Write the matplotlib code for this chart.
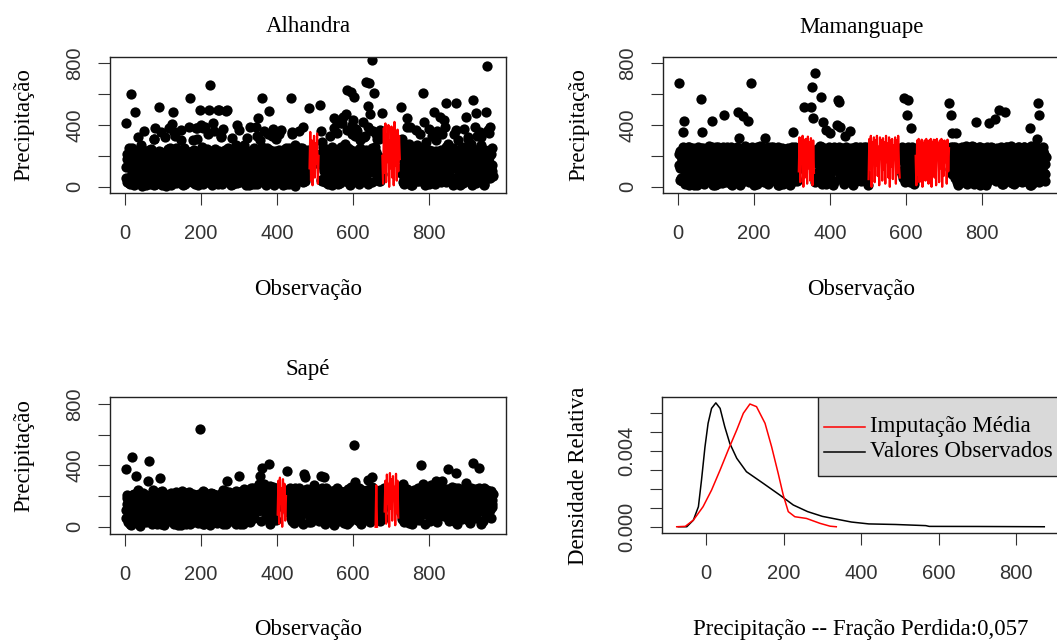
import matplotlib
matplotlib.use("Agg")
import matplotlib.pyplot as plt
from matplotlib.patches import Rectangle
import numpy as np

W = 1057
H = 641
N = None

# observation numbers of the three interleaved point lists
obs_a = list(range(1, 968, 3))
obs_b = list(range(2, 969, 3))
obs_c = list(range(3, 970, 3))

alhandra_a = [
    415, 180, 60, 250, 20, 598, 130, 95, 482, 90, 210, 40, 160, 150, 270, 10, 190, 120, 70, 230,
    120, 45, 30, 200, 160, 310, 380, 50, 140, 514, 100, 225, 15, 170, 85, 80, 220, 140, 35, 250,
    190, 405, 482, 355, 60, 180, 130, 220, 25, 300, 160, 90, 240, 45, 200, 110, 65, 572, 150, 70,
    180, 20, 380, 380, 140, 497, 50, 260, 380, 210, 388, 90, 170, 497, 662, 30, 230, 410, 160, 105,
    70, 497, 497, 200, 330, 120, 55, 40, 492, 497, 180, 225, 90, 240, 20, 130, 150, 270, 400, 60,
    210, 100, 120, 40, 270, 190, 15, 80, 230, 150, 20, 175, 110, 250, 60, 389, 443, 170, 300, 40,
    572, 220, 130, 75, 70, 340, 492, 180, 30, 200, 150, 90, 310, 200, 50, 240, 120, 165, 10, 190,
    135, 70, 230, 160, 40, 572, 355, 210, 100, 270, 30, 180, 95, 140, 60, 250, 200, 90, 115, 150,
    240, 508, N, N, N, N, N, N, N, N, N, 529, 180, 290, 60, 230, 140, 85, 20, 210,
    100, 260, 150, 445, 40, 432, 200, 125, 80, 250, 410, 453, 130, 280, 470, 626, 60, 220, 615, 170,
    432, 583, 90, 340, 240, 30, 300, 160, 220, 70, 330, 679, 120, 524, 669, 470, 200, 819, 604, 260,
    80, 310, 150, 350, 40, 475, N, N, N, N, N, N, N, N, N, N, N, N, N, N,
    N, N, 518, 180, 115, 60, 250, 445, 120, 280, 389, 30, 210, 145, 150, 80, 270, 190, 40, 105,
    220, 604, 419, 100, 290, 160, 50, 240, 135, 120, 200, 484, 70, 300, 180, 95, 453, 30, 230, 150,
    432, 90, 540, 280, 200, 60, 125, 140, 250, 20, 540, 190, 300, 100, 230, 75, 70, 260, 160, 453,
    40, 310, 200, 120, 280, 561, 90, 240, 475, 330, 150, 60, 270, 190, 105, 20, 220, 484, 780, 346,
    389, 130, 250,
]
alhandra_b = [
    60, 210, 140, 25, 190, 95, 240, 15, 170, 120, 55, 230, 180, 80, 5, 150, 360, 110, 35, 200,
    165, 20, 245, 90, 130, 10, 215, 70, 185, 145, 40, 355, 100, 160, 30, 205, 120, 60, 380, 175,
    15, 225, 85, 150, 250, 35, 195, 110, 365, 65, 140, 215, 20, 175, 100, 390, 45, 160, 230, 125,
    240, 80, 155, 10, 215, 125, 400, 55, 170, 100, 30, 245, 135, 200, 70, 160, 15, 360, 110, 190,
    140, 20, 235, 95, 165, 375, 40, 205, 120, 60, 250, 150, 10, 190, 85, 230, 40, 120, 175, 365,
    30, 185, 95, 245, 140, 50, 220, 165, 15, 385, 105, 60, 200, 135, 240, 20, 175, 90, 225, 150,
    70, 360, 130, 15, 205, 160, 45, 240, 100, 375, 60, 185, 25, 220, 140, 90, 365, 35, 170, 230,
    110, 20, 195, 250, 75, 155, 30, 230, 140, 5, 210, 120, 360, 55, 180, 100, 390, 40, 165, 220,
    80, 190, N, N, N, N, N, N, N, N, 150, 360, 40, 205, 115, 30, 240, 175, 70, 220,
    135, 15, 200, 380, 60, 170, 230, 105, 25, 410, 155, 90, 215, 40, 365, 120, 185, 10, 240, 400,
    150, 60, 375, 110, 195, 20, 250, 130, 420, 45, 210, 165, 85, 390, 140, 230, 30, 360, 180, 95,
    225, 130, 40, 365, 160, 85, N, N, N, N, N, N, N, N, N, N, N, N, N, N,
    N, 210, 90, 250, 20, 175, 130, 385, 55, 200, 145, 10, 235, 105, 170, 365, 40, 190, 125, 220,
    60, 245, 150, 15, 205, 110, 375, 35, 180, 230, 90, 155, 20, 360, 125, 195, 50, 240, 100, 170,
    385, 30, 215, 140, 75, 250, 165, 10, 200, 120, 365, 45, 185, 95, 230, 150, 25, 375, 110, 205,
    140, 60, 240, 175, 15, 220, 100, 390, 150, 35, 210, 355, 80, 165, 230, 45, 190, 125, 370, 160,
    55, 215, 105,
]
alhandra_c = [
    130, 30, 220, 175, 65, 250, 110, 185, 20, 145, 325, 90, 205, 40, 160, 235, 120, 15, 195, 80,
    240, 105, 175, 45, 310, 135, 20, 190, 95, 230, 155, 60, 215, 120, 320, 5, 180, 245, 75, 140,
    205, 60, 125, 330, 25, 165, 235, 85, 145, 200, 10, 250, 115, 180, 40, 220, 150, 95, 30, 300,
    85, 190, 310, 130, 45, 225, 160, 20, 240, 140, 195, 65, 340, 110, 175, 25, 210, 120, 245, 50,
    195, 130, 60, 320, 20, 180, 145, 240, 95, 165, 30, 210, 115, 315, 160, 75, 200, 25, 230, 140,
    175, 245, 55, 160, 215, 95, 315, 130, 195, 60, 235, 145, 20, 180, 110, 330, 40, 220, 130, 255,
    190, 40, 225, 160, 250, 85, 195, 120, 330, 150, 15, 235, 105, 170, 340, 60, 200, 130, 240, 80,
    250, 165, 100, 20, 215, 135, 340, 90, 185, 230, 60, 145, 200, 250, 110, 30, 170, 235, 75, 195,
    160, N, N, N, N, N, N, N, N, N, 210, 45, 185, 255, 100, 160, 220, 60, 130, 330,
    240, 125, 65, 215, 165, 350, 20, 190, 140, 255, 85, 230, 170, 35, 200, 250, 110, 160, 340, 50,
    215, 330, 140, 360, 180, 85, 240, 200, 125, 325, 175, 240, 20, 195, 370, 150, 250, 120, 220, 340,
    45, 200, 310, 135, 170, N, N, N, N, N, N, N, N, N, N, N, N, N, N, N,
    N, 120, 310, 30, 195, 145, 225, 80, 170, 250, 15, 190, 115, 240, 165, 50, 215, 135, 340, 95,
    185, 130, 255, 70, 225, 155, 20, 200, 115, 330, 60, 185, 235, 140, 40, 210, 165, 345, 75, 225,
    120, 255, 65, 195, 160, 30, 240, 125, 340, 180, 55, 215, 140, 10, 250, 185, 100, 225, 200, 60,
    325, 185, 110, 40, 250, 150, 205, 25, 230, 120, 180, 90, 320, 135, 10, 240, 170, 215, 55, 195,
    240, 140, 70,
]

mamanguape_a = [
    675, 120, 200, 40, 353, 428, 240, 90, 160, 10, 250, 70, 180, 130, 30, 220, 100, 260, 60, 150,
    568, 353, 20, 190, 110, 240, 80, 170, 50, 428, 210, 140, 15, 255, 95, 180, 40, 230, 120, 65,
    465, 200, 30, 150, 245, 85, 170, 10, 220, 125, 60, 260, 486, 316, 140, 25, 195, 457, 100, 230,
    50, 428, 175, 240, 675, 90, 15, 210, 130, 255, 70, 160, 35, 225, 110, 190, 314, 60, 145, 20,
    235, 100, 180, 45, 250, 125, 70, 200, 15, 160, 240, 90, 30, 215, 140, 55, 250, 175, 10, 120,
    230, 353, 80, 195, 40, 150, N, N, N, N, 518, N, N, N, N, N, 518, 647, 443, N,
    738, 210, 60, 250, 140, 583, 20, 421, 180, 95, 370, 230, 45, 350, 160, 240, 15, 200, 110, 400,
    561, 552, 388, 70, 250, 130, 330, 30, 215, 165, 90, 360, 240, 10, 185, 120, 255, 60, 200, 145,
    35, 230, 100, 260, 175, 50, 210, N, N, N, N, N, N, N, N, N, N, N, N, N,
    N, N, N, N, N, N, N, N, N, N, N, N, N, N, N, 240, 80, 180, 574, 130,
    40, 465, 559, 210, 378, 150, 250, 20, N, N, N, N, N, N, N, N, N, N, N, N,
    N, N, N, N, N, N, N, N, N, N, N, N, N, N, N, N, N, N, 542, 465,
    350, 120, 200, 60, 350, 240, 15, 180, 95, 255, 140, 30, 220, 110, 170, 50, 245, 80, 190, 130,
    20, 421, 235, 150, 70, 260, 115, 40, 200, 165, 10, 230, 90, 410, 180, 55, 250, 125, 440, 35,
    210, 145, 497, 80, 240, 20, 175, 487, 110, 255, 60, 195, 135, 25, 225, 100, 170, 45, 250, 150,
    85, 215, 30, 190, 260, 120, 65, 235, 160, 378, 15, 200, 105, 245, 140, 310, 542, 465, 50, 180,
    230, 90, 150,
]
mamanguape_b = [
    140, 230, 60, 180, 255, 20, 150, 205, 95, 260, 120, 40, 190, 245, 75, 165, 10, 215, 130, 250,
    85, 200, 160, 30, 240, 110, 265, 55, 175, 135, 15, 225, 100, 190, 255, 65, 150, 205, 25, 170,
    235, 120, 260, 70, 185, 140, 20, 245, 160, 95, 210, 35, 175, 250, 120, 225, 60, 140, 265, 190,
    110, 250, 30, 195, 150, 225, 80, 170, 240, 20, 185, 265, 125, 60, 200, 145, 230, 95, 255, 175,
    40, 215, 150, 260, 90, 180, 230, 15, 195, 120, 65, 250, 175, 205, 100, 240, 30, 160, 220, 255,
    125, 190, 260, 55, 225, 170, N, N, N, N, N, N, N, N, N, N, N, N, N, 210,
    30, 175, 240, 105, 195, 60, 255, 150, 225, 20, 180, 130, 260, 85, 205, 145, 235, 40, 170, 250,
    120, 215, 65, 190, 240, 20, 160, 255, 105, 200, 140, 30, 230, 175, 85, 260, 125, 195, 45, 220,
    165, 250, 90, 205, 135, 240, 15, N, N, N, N, N, N, N, N, N, N, N, N, N,
    N, N, N, N, N, N, N, N, N, N, N, N, N, N, N, 185, 255, 60, 220, 140,
    245, 95, 205, 30, 175, 260, 120, 190, N, N, N, N, N, N, N, N, N, N, N, N,
    N, N, N, N, N, N, N, N, N, N, N, N, N, N, N, N, N, N, 170, 230,
    85, 255, 140, 205, 30, 180, 245, 110, 225, 60, 195, 150, 265, 20, 170, 235, 100, 210, 135, 255,
    180, 55, 240, 120, 200, 15, 165, 250, 95, 215, 140, 260, 35, 190, 230, 80, 175, 245, 125, 205,
    60, 235, 155, 260, 20, 185, 225, 115, 250, 40, 200, 145, 265, 90, 175, 240, 30, 210, 130, 255,
    165, 250, 75, 220, 135, 40, 245, 185, 105, 265, 150, 25, 230, 170, 90, 250, 125, 200, 55, 240,
    145, 210, 80,
]
mamanguape_c = [
    210, 45, 165, 120, 235, 85, 190, 35, 260, 140, 200, 75, 250, 15, 170, 230, 110, 55, 240, 95,
    180, 250, 65, 215, 125, 190, 40, 235, 100, 260, 150, 80, 245, 20, 175, 130, 220, 85, 255, 115,
    45, 195, 150, 240, 105, 255, 70, 180, 30, 225, 130, 250, 90, 15, 210, 160, 245, 110, 185, 60,
    230, 140, 195, 75, 255, 100, 215, 165, 45, 240, 120, 200, 80, 260, 30, 175, 120, 250, 60, 210,
    155, 260, 95, 185, 35, 240, 130, 255, 70, 210, 165, 20, 230, 110, 245, 60, 195, 140, 85, 235,
    200, 40, 175, 250, 115, N, N, N, N, N, N, N, N, N, N, N, N, N, N, 235,
    155, 245, 90, 200, 265, 120, 185, 55, 240, 165, 210, 80, 30, 230, 125, 195, 260, 110, 225, 140,
    255, 70, 180, 130, 215, 165, 245, 95, 60, 230, 185, 250, 110, 205, 150, 35, 240, 175, 100, 260,
    50, 180, 225, 135, 255, 75, 200, N, N, N, N, N, N, N, N, N, N, N, N, N,
    N, N, N, N, N, N, N, N, N, N, N, N, N, N, 215, 100, 250, 165, 30, 235,
    120, 260, 175, 90, 225, 145, 50, 240, N, N, N, N, N, N, N, N, N, N, N, N,
    N, N, N, N, N, N, N, N, N, N, N, N, N, N, N, N, N, N, 115, 255,
    200, 125, 260, 70, 230, 160, 95, 250, 185, 40, 215, 120, 175, 255, 90, 195, 145, 265, 30, 180,
    240, 105, 200, 260, 150, 225, 80, 190, 245, 30, 175, 120, 210, 140, 255, 100, 220, 60, 165, 250,
    135, 190, 45, 215, 250, 95, 170, 260, 130, 205, 180, 70, 240, 155, 20, 225, 190, 110, 260, 85,
    215, 120, 195, 255, 60, 180, 140, 230, 15, 205, 260, 100, 170, 55, 215, 145, 30, 235, 185, 120,
    260, 35, 195,
]

sape_a = [
    374, 150, 30, 200, 90, 10, 452, 120, 180, 330, 60, 210, 140, 20, 170, 100, 45, 190, 75, 130,
    300, 428, 160, 15, 240, 110, 55, 200, 135, 25, 320, 180, 85, 150, 10, 210, 120, 60, 175, 40,
    195, 95, 140, 20, 215, 70, 160, 110, 35, 185, 125, 50, 200, 15, 145, 90, 225, 60, 170, 30,
    210, 105, 155, 40, 190, 635, 80, 130, 20, 205, 115, 55, 180, 145, 10, 160, 95, 215, 65, 135,
    25, 190, 110, 170, 45, 220, 80, 140, 15, 298, 125, 60, 200, 155, 35, 180, 100, 230, 70, 150,
    330, 20, 175, 115, 210, 50, 145, 90, 235, 30, 165, 120, 220, 60, 185, 250, 100, 280, 330, 40,
    385, 150, 210, 75, 260, 125, 412, 20, 195, 90, 240, 160, 45, 215, N, N, N, N, N, N,
    N, N, 363, 110, 230, 60, 185, 140, 25, 250, 95, 170, 205, 50, 130, 225, 15, 346, 323, 155,
    85, 240, 120, 30, 195, 160, 270, 70, 215, 105, 40, 180, 332, 135, 323, 20, 250, 90, 165, 210,
    55, 145, 230, 10, 185, 115, 240, 65, 160, 200, 35, 225, 95, 140, 175, 15, 210, 120, 260, 80,
    190, 532, 290, 45, 225, 130, 170, 20, 240, 100, 155, 60, 205, 302, 140, 30, 185, 325, 110, 215,
    N, 75, 235, 160, 40, 195, 120, 250, N, N, N, N, N, N, N, N, N, N, N, N,
    N, 200, 90, 170, 280, 30, 215, 140, 60, 235, 110, 185, 20, 160, 225, 80, 130, 250, 45, 175,
    400, 280, 150, 15, 210, 95, 170, 235, 270, 120, 55, 200, 140, 300, 30, 185, 245, 100, 300, 160,
    70, 220, 125, 375, 40, 195, 150, 260, 85, 175, 352, 20, 230, 110, 160, 205, 50, 240, 135, 285,
    90, 215, 165, 25, 250, 415, 120, 185, 60, 230, 145, 380, 100, 200, 35, 255, 170, 80, 225, 130,
    190, 60, 150,
]
sape_b = [
    110, 190, 55, 165, 20, 210, 130, 85, 175, 40, 200, 150, 5, 185, 115, 220, 70, 160, 30, 195,
    140, 60, 205, 100, 170, 25, 215, 125, 75, 190, 150, 15, 230, 95, 165, 45, 200, 135, 205, 85,
    160, 30, 190, 120, 225, 65, 180, 145, 10, 210, 95, 170, 130, 220, 55, 185, 15, 160, 205, 110,
    70, 200, 140, 25, 215, 175, 60, 190, 110, 225, 35, 165, 205, 90, 150, 220, 40, 180, 125, 200,
    165, 55, 210, 135, 190, 15, 170, 230, 100, 185, 50, 215, 140, 75, 200, 120, 180, 20, 160, 225,
    95, 200, 140, 20, 245, 170, 60, 210, 120, 190, 255, 80, 175, 230, 140, 215, 260, 170, 230, 190,
    225, 280, 140, 205, 60, 240, 180, 265, 110, 220, 155, 250, 200, 130, N, N, N, N, N, N,
    N, 210, 95, 185, 250, 135, 40, 215, 170, 105, 230, 60, 190, 150, 215, 80, 200, 240, 125, 175,
    220, 30, 175, 140, 245, 95, 200, 225, 55, 165, 215, 130, 250, 80, 195, 160, 230, 45, 190, 120,
    205, 170, 70, 220, 135, 195, 40, 175, 230, 110, 190, 150, 25, 215, 125, 245, 90, 180, 200, 160,
    235, 90, 205, 170, 120, 250, 30, 195, 145, 220, 70, 185, 240, 110, 200, 160, 260, 55, 195, 230,
    N, 150, 215, 85, 190, 230, 130, 60, N, N, N, N, N, N, N, N, N, N, N, N,
    210, 140, 225, 50, 185, 235, 110, 200, 165, 25, 215, 135, 180, 240, 95, 205, 160, 60, 225, 190,
    120, 210, 245, 80, 175, 140, 220, 35, 195, 160, 240, 115, 210, 180, 75, 225, 145, 200, 250, 90,
    185, 140, 245, 60, 210, 165, 125, 230, 40, 205, 185, 150, 255, 95, 215, 175, 130, 210, 60, 230,
    175, 95, 240, 205, 140, 60, 225, 160, 210, 110, 250, 180, 20, 200, 140, 230, 95, 215, 165, 205,
    110, 230, 175,
]
sape_c = [
    60, 205, 145, 95, 185, 130, 35, 215, 100, 170, 240, 70, 195, 120, 30, 180, 155, 210, 90, 170,
    35, 185, 120, 210, 60, 160, 195, 20, 150, 110, 225, 75, 180, 145, 215, 105, 50, 190, 140, 220,
    125, 210, 70, 180, 145, 10, 200, 90, 165, 230, 40, 195, 115, 160, 205, 75, 185, 135, 50, 215,
    175, 45, 210, 160, 90, 200, 130, 235, 20, 175, 150, 210, 85, 195, 120, 60, 215, 150, 185, 40,
    205, 120, 85, 195, 160, 240, 70, 175, 205, 130, 225, 100, 180, 40, 210, 165, 90, 195, 145, 110,
    205, 150, 230, 85, 180, 125, 220, 175, 40, 210, 140, 250, 195, 100, 235, 160, 205, 140, 255, 120,
    190, 235, 95, 250, 170, 215, 145, 230, 85, 260, 200, 120, 235, N, N, N, N, N, N, N,
    N, 170, 240, 130, 195, 225, 90, 175, 215, 140, 60, 200, 250, 120, 185, 230, 105, 210, 160, 245,
    140, 200, 115, 230, 175, 60, 220, 145, 190, 235, 90, 205, 160, 215, 40, 185, 130, 225, 205, 85,
    170, 230, 120, 195, 60, 250, 150, 210, 95, 185, 225, 140, 205, 80, 235, 175, 30, 215, 165, 230,
    130, 215, 170, 245, 75, 195, 160, 225, 110, 190, 235, 140, 60, 210, 175, 250, 120, 200, 150, N,
    N, 200, 130, 240, 170, 95, 215, N, N, N, N, N, N, N, N, N, N, N, N, N,
    165, 230, 85, 195, 150, 215, 120, 245, 70, 190, 160, 220, 105, 200, 140, 55, 230, 175, 210, 125,
    195, 150, 230, 185, 110, 250, 160, 200, 85, 225, 180, 135, 255, 60, 210, 170, 115, 230, 195, 145,
    225, 100, 195, 235, 155, 80, 210, 180, 140, 255, 115, 190, 170, 60, 240, 125, 200, 185, 230, 160,
    45, 200, 230, 140, 180, 125, 245, 90, 195, 170, 215, 130, 235, 185, 95, 205, 150, 240, 110, 200,
    185, 130, 215,
]

# imputed (missing) stretches: first observation, values every 2nd observation
alhandra_imp = [
    (486, [120, 355, 40, 300, 10, 250, 330, 60, 280, 150, 345, 20, 200]),
    (678, [200, 20, 380, 90, 410, 30, 340, 160, 400, 0, 300, 120, 390, 60, 350, 10, 420, 140,
           280, 40, 370, 100, 330, 180]),
]
mamanguape_imp = [
    (318, [100, 320, 30, 280, 150, 330, 0, 300, 60, 310, 200, 20, 325, 120, 290, 40, 315, 170,
           10, 300, 90]),
    (502, [50, 310, 120, 330, 0, 290, 180, 320, 30, 300, 140, 330, 70, 260, 10, 320, 190, 300,
           40, 315, 110, 290, 20, 330, 160, 280, 60, 320, 0, 300, 130, 310, 50, 270, 200, 320,
           20, 300, 90, 330, 150, 60]),
    (626, [200, 10, 300, 80, 310, 30, 290, 150, 305, 0, 280, 110, 300, 40, 310, 170, 295, 20,
           300, 90, 310, 0, 290, 140, 305, 60, 300, 10, 310, 180, 285, 30, 300, 120, 310, 0,
           295, 70, 300, 160, 290, 20, 305, 100, 250]),
]
sape_imp = [
    (402, [80, 300, 20, 320, 150, 250, 0, 310, 100, 280, 40, 200]),
    (660, [0, 270, 0]),
    (684, [100, 300, 20, 340, 160, 280, 0, 350, 120, 310, 40, 330, 200, 260, 10, 345, 90, 300, 60]),
]

# density curves (Precipitação), y in units of 0.001
obs_dens_x = [-72, -50, -33, -20, -12, -3, 5, 14, 25, 36, 48, 61, 79, 104, 147, 190, 225, 262,
              300, 337, 375, 420, 489, 567, 576, 700, 873]
obs_dens_y = [0.0, 0.0, 0.35, 1.06, 2.47, 4.23, 5.47, 6.26, 6.55, 6.26, 5.29, 4.41, 3.62, 2.91,
              2.3, 1.68, 1.15, 0.8, 0.55, 0.4, 0.25, 0.15, 0.12, 0.06, 0.02, 0.015, 0.0]
imp_dens_x = [-76, -54, -33, -8, 14, 36, 57, 79, 96, 113, 130, 152, 169, 186, 199, 212, 229,
              259, 294, 320, 336]
imp_dens_y = [0.0, 0.02, 0.35, 1.06, 1.94, 3.0, 4.06, 5.12, 6.0, 6.49, 6.35, 5.47, 4.23, 2.82,
              1.68, 0.8, 0.53, 0.44, 0.18, 0.03, 0.0]

titles = ["Alhandra", "Mamanguape", "Sapé"]
serif = "Liberation Serif"
sans = "Liberation Sans"
SERIF_SIZE = 16.5
TICK_SIZE = 14.5

fig = plt.figure(figsize=(W / 100, H / 100), dpi=100)


def box(left, top, right, bottom):
    return [left / W, 1 - bottom / H, (right - left) / W, (bottom - top) / H]


def ftext(x, y, s, rot=0):
    fig.text(x / W, 1 - y / H, s, ha="center", va="center", rotation=rot,
             family=serif, fontsize=SERIF_SIZE)


def style(ax, xticks, yticks, ylabels):
    for sp in ax.spines.values():
        sp.set_linewidth(1.0)
        sp.set_color("#222222")
    ax.set_xticks(xticks)
    ax.set_xticklabels([str(t) for t in xticks], family=sans, fontsize=TICK_SIZE, color="#333333")
    ax.set_yticks(yticks)
    ax.set_yticklabels(ylabels, family=sans, fontsize=TICK_SIZE, color="#333333",
                       rotation=90, va="center")
    ax.tick_params(axis="x", direction="out", length=8.6, width=0.8, pad=14, color="#333333")
    ax.tick_params(axis="y", direction="out", length=8.6, width=0.8, pad=10, color="#333333")


scatter_boxes = [box(110, 57, 506, 193), box(663, 57, 1059, 193), box(110, 397, 506, 534)]
scatter_ylims = [(-40, 840), (-40, 840), (-47, 845)]
series = [
    (alhandra_a, alhandra_b, alhandra_c),
    (mamanguape_a, mamanguape_b, mamanguape_c),
    (sape_a, sape_b, sape_c),
]
imputed = [alhandra_imp, mamanguape_imp, sape_imp]

for k in range(3):
    ax = fig.add_axes(scatter_boxes[k])
    ya, yb, yc = series[k]
    for xs, ys in ((obs_b, yb), (obs_c, yc), (obs_a, ya)):
        ax.plot(xs, np.array(ys, dtype=float), "o", ms=7.4, mew=0, color="black")
    for start, vals in imputed[k]:
        xs = [start + 2 * j for j in range(len(vals))]
        ax.plot(xs, vals, "-", color="red", lw=1.6)
    ax.set_xlim(-40, 1004)
    ax.set_ylim(*scatter_ylims[k])
    style(ax, [0, 200, 400, 600, 800], [0, 200, 400, 600, 800], ["0", "", "400", "", "800"])

ftext(308, 27, titles[0])
ftext(861, 27, titles[1])
ftext(308, 369, titles[2])
ftext(308, 289, "Observação")
ftext(861, 289, "Observação")
ftext(308, 629, "Observação")
ftext(24, 125, "Precipitação", rot=90)
ftext(579, 125, "Precipitação", rot=90)
ftext(24, 456, "Precipitação", rot=90)

# density panel
ax4 = fig.add_axes(box(662, 397, 1059, 533))
ax4.plot(obs_dens_x, np.array(obs_dens_y) / 1000, color="black", lw=1.1)
ax4.plot(imp_dens_x, np.array(imp_dens_y) / 1000, color="red", lw=1.1)
ax4.set_xlim(-114, 911)
ax4.set_ylim(-0.00033, 0.00686)
style(ax4, [0, 200, 400, 600, 800], [0.0, 0.001, 0.002, 0.003, 0.004, 0.005, 0.006],
      ["0.000", "", "", "", "0.004", "", ""])

ax4.add_patch(Rectangle((288, 0.00267), 900, 0.00686 - 0.00267, facecolor="#d9d9d9",
                        edgecolor="#222222", lw=1.0, zorder=5))
ax4.plot([305, 410], [0.00530, 0.00530], color="red", lw=1.1, zorder=6)
ax4.plot([305, 410], [0.00396, 0.00396], color="black", lw=1.1, zorder=6)
ax4.text(423, 0.00530, "Imputação Média", family=serif, fontsize=SERIF_SIZE, va="center",
         zorder=7)
ax4.text(423, 0.00396, "Valores Observados", family=serif, fontsize=SERIF_SIZE, va="center",
         zorder=7)

ftext(861, 629, "Precipitação -- Fração Perdida:0,057")
ftext(579, 476, "Densidade Relativa", rot=90)

fig.savefig("out.png", dpi=100)
